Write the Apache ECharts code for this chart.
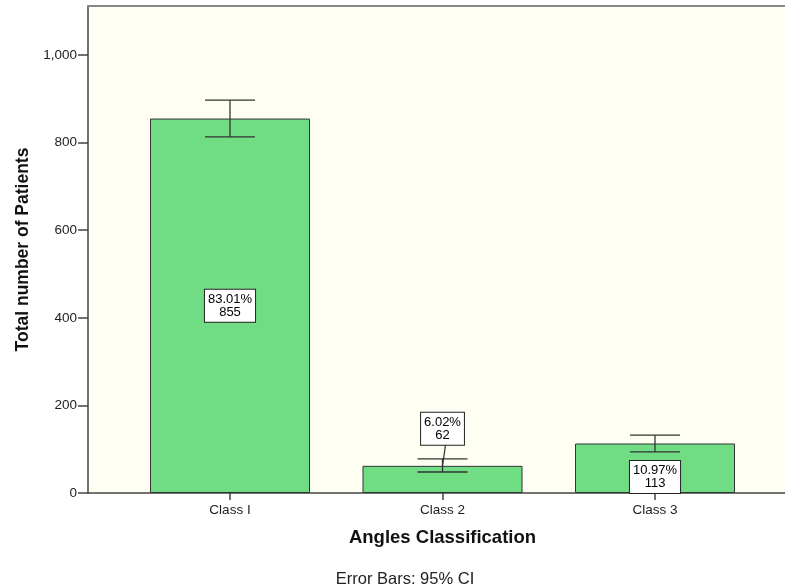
<!DOCTYPE html>
<html><head><meta charset="utf-8">
<script src="https://cdn.jsdelivr.net/npm/echarts@6/dist/echarts.min.js"></script>
<style>html,body{margin:0;padding:0;background:#fff}#c{width:785px;height:588px}</style>
</head><body><div id="c"></div>
<script>
var categories = ['Class I', 'Class 2', 'Class 3'];
var counts = [855, 62, 113];
var percents = ['83.01%', '6.02%', '10.97%'];
var ciLow = [813, 48, 94];
var ciHigh = [897, 78, 132];
var yTicks = [0, 200, 400, 600, 800, 1000];

var chart = echarts.init(document.getElementById('c'));
var FONT = 'Liberation Sans, Arial, sans-serif';
var YMAX = 1112;

var labelPos = ['inside', 'top', 'insideBottom'];
var labelDist = [0, 21, 0];

var barData = counts.map(function (v, i) {
  return {
    value: v,
    label: {
      show: true,
      position: labelPos[i],
      distance: labelDist[i],
      formatter: percents[i] + '\n' + v
    }
  };
});

chart.setOption({
  animation: false,
  grid: [
    { left: 88, right: 0, top: 6, bottom: 95, show: true, backgroundColor: '#FEFEF3', borderWidth: 0 },
    { left: 123.75, right: 23.75, top: 6, bottom: 95, show: false }
  ],
  xAxis: [
    { gridIndex: 0, type: 'value', min: 0, max: 1, axisLabel: { show: false }, axisTick: { show: false }, splitLine: { show: false },
      axisLine: { show: true, lineStyle: { color: '#444', width: 1.5 } } },
    { gridIndex: 0, type: 'value', min: 0, max: 1, position: 'top', axisLabel: { show: false }, axisTick: { show: false }, splitLine: { show: false },
      axisLine: { show: true, lineStyle: { color: '#888', width: 2 } } },
    { gridIndex: 1, type: 'category', data: categories,
      axisLine: { show: false },
      axisTick: { show: true, alignWithLabel: true, length: 7, lineStyle: { color: '#444', width: 1.5 } },
      axisLabel: { color: '#222', fontSize: 13.5, fontFamily: FONT, margin: 10 },
      name: 'Angles Classification', nameLocation: 'middle', nameGap: 35,
      nameTextStyle: { fontSize: 18.5, fontWeight: 'bold', color: '#111', fontFamily: FONT } }
  ],
  yAxis: [
    { gridIndex: 0, type: 'value', min: 0, max: YMAX, interval: 200,
      axisLine: { show: true, lineStyle: { color: '#444', width: 1.5 } },
      axisTick: { show: true, length: 10, lineStyle: { color: '#444', width: 1.5 } },
      splitLine: { show: false },
      axisLabel: { color: '#222', fontSize: 13.5, fontFamily: FONT, margin: 11,
        showMaxLabel: false,
        formatter: function (v) { return yTicks.indexOf(v) >= 0 ? v.toLocaleString('en-US') : ''; } },
      name: 'Total number of Patients', nameLocation: 'middle', nameGap: 52, nameRotate: 90,
      nameTextStyle: { fontSize: 17.5, fontWeight: 'bold', color: '#111', fontFamily: FONT } },
    { gridIndex: 1, type: 'value', min: 0, max: YMAX, show: false }
  ],
  title: {
    text: 'Error Bars: 95% CI', left: 400, top: 566, textAlign: 'center',
    textStyle: { fontSize: 16.5, fontWeight: 'normal', color: '#222', fontFamily: FONT }
  },
  series: [
    {
      type: 'bar', xAxisIndex: 2, yAxisIndex: 1, data: barData, barWidth: 160,
      itemStyle: { color: '#70DC84', borderColor: '#333', borderWidth: 1 },
      label: {
        color: '#000', fontSize: 13, fontFamily: FONT, lineHeight: 13,
        backgroundColor: '#fff', borderColor: '#222', borderWidth: 1, padding: [3, 3, 3, 3], align: 'center'
      },
      z: 2
    },
    {
      type: 'custom', xAxisIndex: 2, yAxisIndex: 1, z: 3,
      data: categories.map(function (c, i) { return [i, ciLow[i], ciHigh[i], counts[i]]; }),
      renderItem: function (params, api) {
        var x = api.value(0);
        var lo = api.coord([x, api.value(1)]);
        var hi = api.coord([x, api.value(2)]);
        var hw = 25;
        var st = { stroke: '#333', lineWidth: 1.3 };
        return {
          type: 'group',
          children: [
            { type: 'line', shape: { x1: lo[0], y1: lo[1], x2: hi[0], y2: hi[1] }, style: st },
            { type: 'line', shape: { x1: lo[0] - hw, y1: lo[1], x2: lo[0] + hw, y2: lo[1] }, style: st },
            { type: 'line', shape: { x1: hi[0] - hw, y1: hi[1], x2: hi[0] + hw, y2: hi[1] }, style: st }
          ]
        };
      }
    },
    {
      type: 'custom', xAxisIndex: 2, yAxisIndex: 1, z: 3,
      data: [[1, counts[1]]],
      renderItem: function (params, api) {
        var p = api.coord([api.value(0), api.value(1)]);
        return { type: 'line', shape: { x1: p[0], y1: p[1], x2: p[0] + 3, y2: p[1] - 21 }, style: { stroke: '#333', lineWidth: 1.2 } };
      }
    }
  ]
});
</script></body></html>
